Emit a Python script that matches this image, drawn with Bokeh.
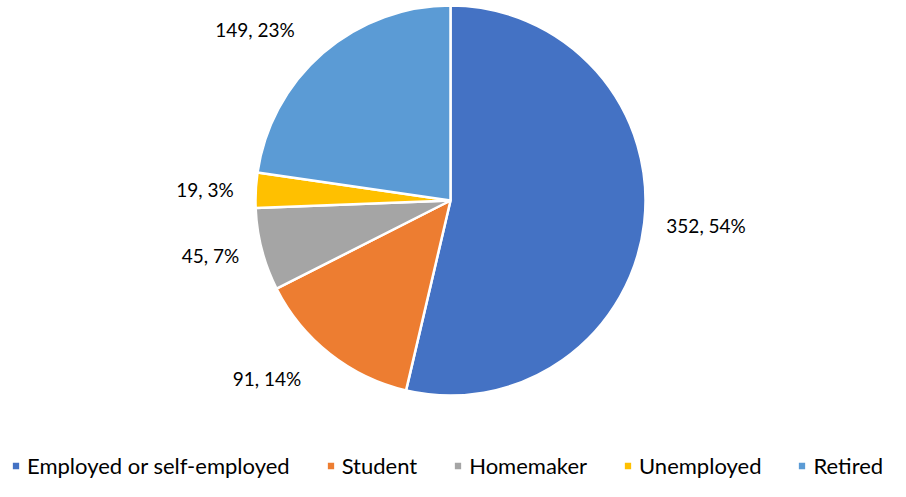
import math
from bokeh.plotting import figure
from bokeh.models import ColumnDataSource, Range1d
from bokeh.core.properties import value
from bokeh.embed import file_html
from bokeh.resources import INLINE

categories = ["Employed or self-employed", "Student", "Homemaker", "Unemployed", "Retired"]
counts = [352, 91, 45, 19, 149]
percent_labels = ["54%", "14%", "7%", "3%", "23%"]
colors = ["#4472C4", "#ED7D31", "#A5A5A5", "#FFC000", "#5B9BD5"]

FONT = "Lato"
R = 195
total = sum(counts)

# angles: start at top, go clockwise
starts, ends, lx, ly, la, texts = [], [], [], [], [], []
cum = 0
for c, pct in zip(counts, percent_labels):
    a0 = math.pi / 2 - 2 * math.pi * cum / total
    cum += c
    a1 = math.pi / 2 - 2 * math.pi * cum / total
    starts.append(a1)
    ends.append(a0)
    mid = (a0 + a1) / 2
    ux, uy = math.cos(mid), math.sin(mid)
    d = R + 22
    sgn = 1 if ux > 0 else -1
    lx.append(d * ux + sgn * 40 * (1 - abs(ux)))
    ly.append((d + 12 * abs(uy)) * uy)
    la.append("left" if ux > 0 else "right")
    texts.append(f"{c}, {pct}")

src = ColumnDataSource(dict(cat=categories, start=starts, end=ends, color=colors))
lsrc = ColumnDataSource(dict(x=lx, y=ly, t=texts, align=la))

p = figure(width=890, height=481, output_backend="svg", toolbar_location=None,
           x_range=Range1d(-450, 440), y_range=Range1d(-281, 200),
           x_axis_location=None, y_axis_location=None, min_border=0)
p.outline_line_color = None
p.grid.visible = False

p.wedge(x=0, y=0, radius=R, start_angle="start", end_angle="end",
        fill_color="color", line_color="white", line_width=2.5,
        legend_field="cat", source=src)

p.text(x="x", y="y", text="t", text_align="align", text_baseline="middle",
       text_font=value(FONT), text_font_size="19px", text_color="#000000", source=lsrc)

leg = p.legend[0]
leg.orientation = "horizontal"
leg.location = (10, 2)
leg.border_line_color = None
leg.background_fill_alpha = 0
leg.padding = 0
leg.margin = 0
leg.spacing = 35
leg.glyph_width = 11
leg.glyph_height = 11
leg.label_standoff = 6
leg.label_text_font = FONT
leg.label_text_font_size = "22px"
leg.label_text_color = "#000000"
leg.label_height = 20

open("out.html", "w").write(file_html(p, INLINE))
